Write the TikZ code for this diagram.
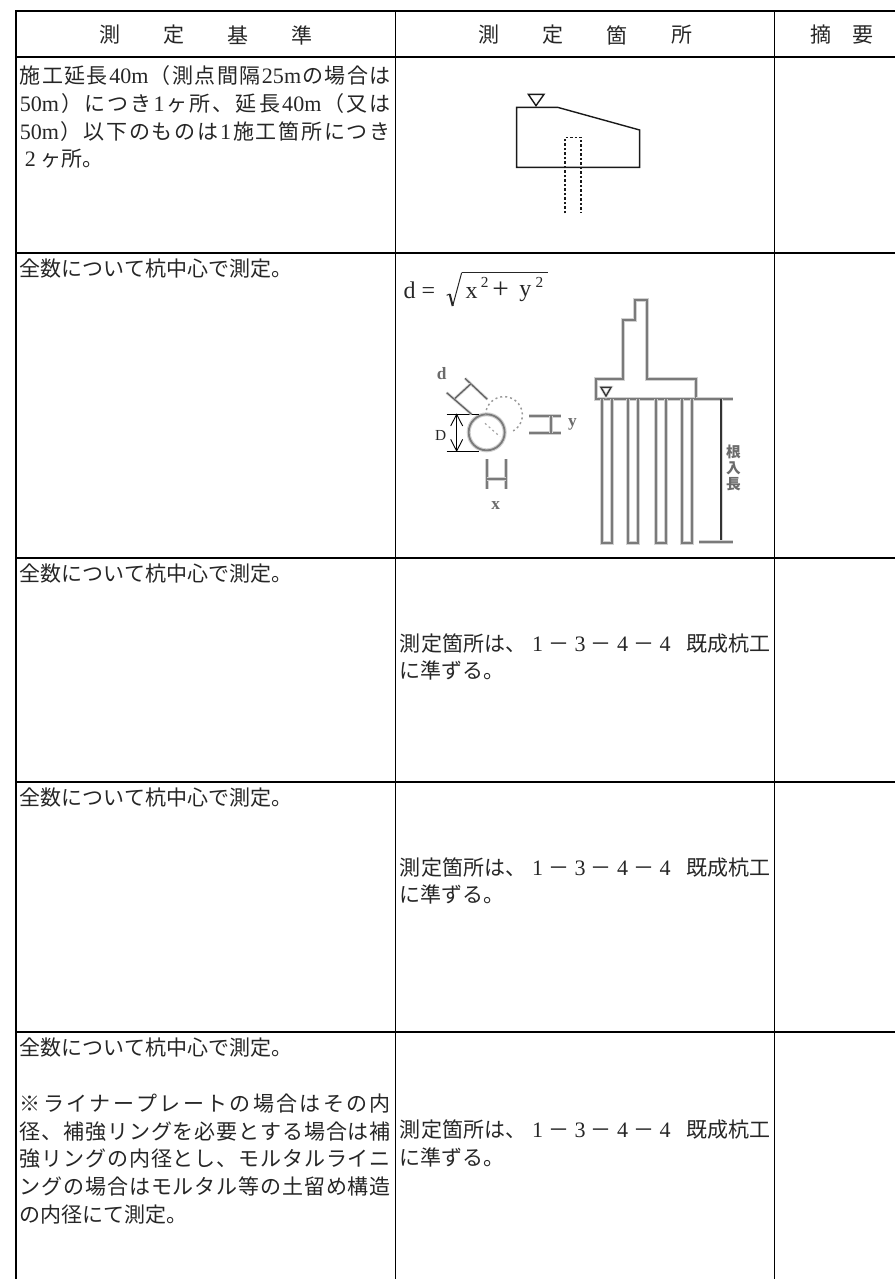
\documentclass[tikz,border=0pt]{standalone}
\usepackage{fontspec}
\usetikzlibrary{arrows.meta}
\newfontfamily\cjk{Noto Sans CJK JP}
\newfontfamily\latf[Scale=1.05]{Liberation Serif}
\newfontfamily\forf{Liberation Serif}
\newlength\pu \setlength\pu{.75pt}
\newcommand\lat[1]{{\latf #1}}
\newcommand\zd[1]{\hbox to 21\pu{\hss\latf #1\hss}}
\makeatletter
\newcommand\jl[2]{\hbox to #1\pu{\@tfor\jx:=#2\do{\jx\hfil}\unskip}}
\makeatother
\tikzset{
  thickrule/.style={line width=2.3\pu,black},
  thinrule/.style={line width=1.3\pu,black},
  celltext/.style={anchor=west,inner sep=0pt,text height=18.5\pu,text depth=2.5\pu,text=black!85,font=\fontsize{15.75}{18}\cjk},
  headtext/.style={anchor=center,inner sep=0pt,text=black!85,font=\fontsize{15.75}{18}\cjk},
  sketch/.style={draw=black!90,line width=1.4\pu},
  dashline/.style={draw=black!90,line width=1.2\pu,dash pattern=on 2.5\pu off 2\pu},
  blurline/.style={draw=black!52,line width=1.8\pu,preaction={draw=black!18,line width=4\pu}},
  blurthin/.style={draw=black!62,line width=1.3\pu,preaction={draw=black!15,line width=3\pu}},
  crisp/.style={draw=black,line width=.9\pu},
  formula/.style={inner sep=0pt,text=black!85,font=\fontsize{18}{20}\forf},
  supscr/.style={inner sep=0pt,text=black!85,font=\fontsize{11.5}{13}\forf},
  blurtext/.style={inner sep=0pt,text=black!58,font=\fontsize{11}{12}\bfseries\cjk},
  blurlatin/.style={inner sep=0pt,text=black!58,font=\fontsize{13}{14}\bfseries\forf},
}
\begin{document}
\begin{tikzpicture}[x=.75pt,y=-.75pt]
\useasboundingbox (0,0) rectangle (895,1279);
% grid
\draw[thickrule] (16,1279) -- (16,11);
\draw[thinrule] (395.3,11) -- (395.3,1279);
\draw[thinrule] (774.3,11) -- (774.3,1279);
\foreach \yy in {11,57.3,252.7,558,782,1031.7} \draw[thickrule] (15,\yy) -- (895,\yy);
% header
\node[headtext] (h1) at (110,35) {測};
\node[headtext] (h2) at (174,35) {定};
\node[headtext] (h3) at (238,35) {基};
\node[headtext] (h4) at (302,35) {準};
\node[headtext] (h5) at (489,35) {測};
\node[headtext] (h6) at (553,35) {定};
\node[headtext] (h7) at (617,35) {箇};
\node[headtext] (h8) at (682,35) {所};
\node[headtext] (h9) at (821,35) {摘};
\node[headtext] (h10) at (863,35) {要};
% row 1
\node[celltext] (a1) at (19.5,75) {\jl{371}{施工延長{\lat{40m}}（測点間隔{\lat{25m}}の場合は}};
\node[celltext] (a2) at (19.5,103) {\jl{371}{{\lat{50m}}）につき{\lat{1}}ヶ所、延長{\lat{40m}}（又は}};
\node[celltext] (a3) at (19.5,131) {\jl{371}{{\lat{50m}}）以下のものは{\lat{1}}施工箇所につき}};
\node[celltext] (a4) at (19.5,158) {\zd{2}ヶ所。};
% row 2..4 left
\node[celltext] (b1) at (19.5,268) {全数について杭中心で測定。};
\node[celltext] (c1) at (19.5,573) {全数について杭中心で測定。};
\node[celltext] (d1) at (19.5,797) {全数について杭中心で測定。};
% row 5 left
\node[celltext] (e1) at (19.5,1047) {全数について杭中心で測定。};
\node[celltext] (e2) at (19.5,1103) {\jl{371}{※ライナープレートの場合はその内}};
\node[celltext] (e3) at (19.5,1131) {\jl{371}{径、補強リングを必要とする場合は補}};
\node[celltext] (e4) at (19.5,1158) {\jl{371}{強リングの内径とし、モルタルライニ}};
\node[celltext] (e5) at (19.5,1186) {\jl{371}{ングの場合はモルタル等の土留め構造}};
\node[celltext] (e6) at (19.5,1214) {の内径にて測定。};
% middle column
\foreach \nm/\ya/\yb in {c/643/670,d/867/894,e/1129/1157}{
  \node[celltext] (\nm m1) at (399.5,\ya) {\jl{371}{測定箇所は、{\zd{1}}－{\zd{3}}－{\zd{4}}－{\zd{4}}{\kern10\pu}既成杭工}};
  \node[celltext] (\nm m2) at (399.5,\yb) {に準ずる。};
}
% figure row 1 (coordinates as in a 3x crop from 400,60)
\begin{scope}[shift={(400,60)},x=.25pt,y=-.25pt]
  \draw[sketch] (350,142) -- (473,142) -- (719,210) -- (719,322) -- (350,322) -- cycle;
  \draw[sketch] (385,103) -- (432,103) -- (408,137) -- cycle;
  \draw[dashline] (495,460) -- (495,232) -- (543,232) -- (543,460);
\end{scope}
% figure row 2 (coordinates as in a 3x crop from 400,270)
\begin{scope}[shift={(400,270)},x=.25pt,y=-.25pt]
  % formula
  \node[formula,anchor=west] (fd) at (10,60) {d =};
  \node[formula] (fx) at (215,68) {x};
  \node[supscr] (fs1) at (254,38) {2};
  \node[formula,font=\fontsize{22}{24}\forf] (fp) at (302,62) {+};
  \node[formula] (fy) at (376,70) {y};
  \node[supscr] (fs2) at (418,38) {2};
  \draw[draw=black!85,line width=1\pu] (185,8) -- (443,8);
  \draw[draw=black!85,line width=1\pu] (140,76) -- (149,72);
  \draw[draw=black!85,line width=2\pu] (149,72) -- (158,108);
  \draw[draw=black!85,line width=1\pu] (158,108) -- (185,8);
  % wall and footing
  \draw[blurline] (588,327) -- (670,327) -- (670,150) -- (704,150) -- (704,90) -- (740,90) -- (740,327) -- (888,327) -- (888,387) -- (588,387) -- cycle;
  \draw[blurline] (888,387) -- (1000,387);
  \draw[blurthin,draw=black!80] (603,352) -- (633,352) -- (618,378) -- cycle;
  % piles
  \foreach \xa/\xb in {605/635,685/715,767/797,845/877}
    \draw[blurline] (\xa,387) -- (\xa,818) -- (\xb,818) -- (\xb,387);
  % embedment
  \draw[blurthin,draw=black!80] (963,387) -- (963,815);
  \draw[blurline] (898,815) -- (1000,815);
  \node[blurtext] (ne1) at (1000,545) {根};
  \node[blurtext] (ne2) at (1000,595) {入};
  \node[blurtext] (ne3) at (1000,642) {長};
  % circles
  \draw[blurline] (260,487) circle[radius=54];
  \draw[draw=black!40,line width=1.5\pu,dash pattern=on 2\pu off 3\pu] plot[domain=180:420,samples=50] ({312+55*cos(\x)},{435+55*sin(\x)});
  \draw[draw=black!35,line width=1.2\pu,dash pattern=on 2\pu off 3\pu] (255,460) -- (300,500);
  % D
  \draw[crisp] (140,433) -- (237,433);
  \draw[crisp] (140,543) -- (237,543);
  \draw[crisp] (170,433) -- (170,543);
  \draw[crisp] (152,468) -- (170,433) -- (188,468);
  \draw[crisp] (152,508) -- (170,543) -- (188,508);
  \node[formula,font=\fontsize{11.5}{13}\forf] (nD) at (122,496) {D};
  % d
  \draw[blurthin] (195,325) -- (262,388);
  \draw[blurthin] (140,368) -- (215,433);
  \draw[blurthin] (212,342) -- (165,385);
  \node[blurlatin] (nd) at (125,312) {d};
  % y
  \draw[blurline] (388,437) -- (483,437);
  \draw[blurline] (388,490) -- (483,490);
  \draw[blurline] (453,437) -- (453,490);
  \node[blurlatin] (ny) at (517,463) {y};
  % x
  \draw[blurline] (260,567) -- (260,658);
  \draw[blurline] (318,567) -- (318,658);
  \draw[blurline] (260,628) -- (318,628);
  \node[blurlatin] (nx) at (287,706) {x};
\end{scope}
\end{tikzpicture}
\end{document}
